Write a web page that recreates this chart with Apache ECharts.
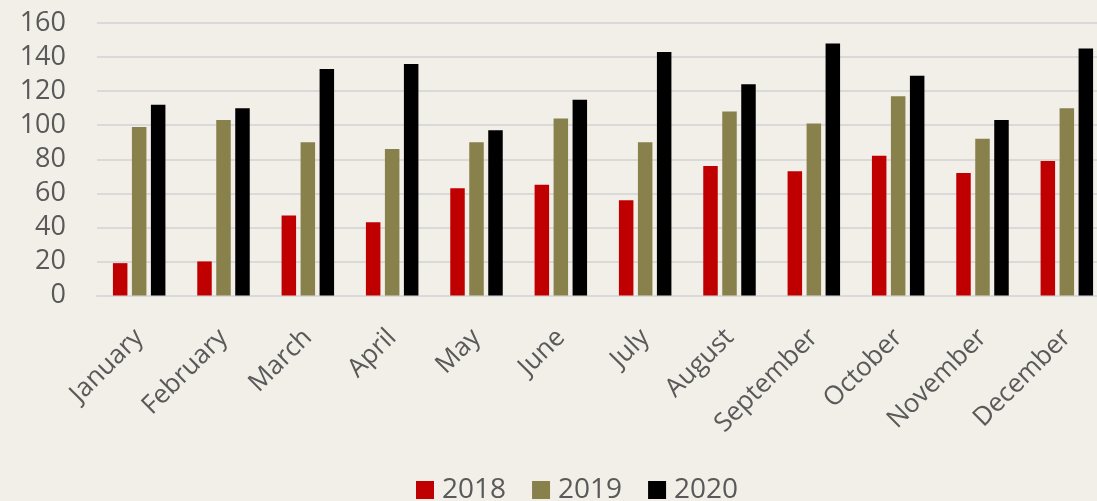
<!DOCTYPE html>
<html>
<head>
<meta charset="utf-8">
<script src="https://cdn.jsdelivr.net/npm/echarts@6/dist/echarts.min.js"></script>
<style>
html,body{margin:0;padding:0;background:#f2eee8;}
#c{width:1097px;height:501px;}
</style>
</head>
<body>
<div id="c"></div>
<script>
const categories = ["January","February","March","April","May","June","July","August","September","October","November","December"];
const s2018 = [19, 20, 47, 43, 63, 65, 56, 76, 73, 82, 72, 79];
const s2019 = [99, 103, 90, 86, 90, 104, 90, 108, 101, 117, 92, 110];
const s2020 = [112, 110, 133, 136, 97, 115, 143, 124, 148, 129, 103, 145];
const seriesNames = ["2018", "2019", "2020"];
const yTicks = {min: 0, max: 160, interval: 20};

const FONT = "'Open Sans', 'Liberation Sans', sans-serif";
const TXT = '#595959';
const chart = echarts.init(document.getElementById('c'), null, {renderer: 'canvas'});
const colors = ['#c00000', '#88814c', '#000000'];
const data = [s2018, s2019, s2020];
chart.setOption({
  backgroundColor: '#f2eee8',
  animation: false,
  textStyle: {fontFamily: FONT},
  grid: {left: 97, top: 23, width: 1012, bottom: 205.5, containLabel: false, outerBoundsMode: 'none'},
  legend: {
    left: 416, top: 476, padding: 0,
    itemWidth: 18, itemHeight: 18, itemGap: 26,
    icon: 'rect',
    textStyle: {color: TXT, fontSize: 28, fontFamily: FONT, padding: [0, 0, 0, 3]},
    data: seriesNames
  },
  xAxis: {
    type: 'category',
    data: categories,
    axisLine: {show: true, lineStyle: {color: '#d9d9d9', width: 2}},
    axisTick: {show: false},
    axisLabel: {rotate: 45, color: TXT, fontSize: 26, fontFamily: FONT, margin: 38, interval: 0}
  },
  yAxis: {
    type: 'value',
    min: yTicks.min, max: yTicks.max, interval: yTicks.interval,
    axisLine: {show: false},
    axisTick: {show: false},
    splitLine: {lineStyle: {color: '#d9d9d9', width: 2}},
    axisLabel: {color: TXT, fontSize: 27, fontFamily: FONT, margin: 31}
  },
  series: seriesNames.map((n, i) => ({
    name: n,
    type: 'bar',
    data: data[i],
    barWidth: 14.5,
    barGap: '31%',
    itemStyle: {color: colors[i]}
  }))
});
</script>
</body>
</html>
